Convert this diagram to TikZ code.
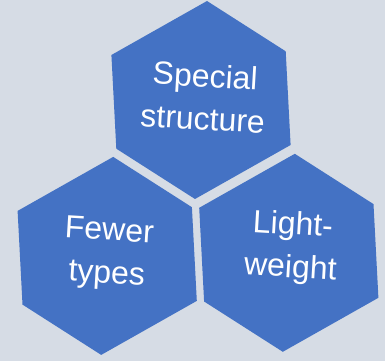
\documentclass[tikz,border=0pt]{standalone}
\usepackage{fontspec}
\setmainfont{Liberation Sans}
\definecolor{bgc}{HTML}{D6DCE5}
\definecolor{hexc}{HTML}{4472C4}
\tikzset{
  hexfill/.style={fill=hexc, draw=none},
  lbl/.style={text=white, align=center, font=\fontsize{32}{43}\selectfont, rotate=-3.4, inner sep=0pt}
}
\newcommand{\hexagonat}[2]{% cx cy (pixel coords, y down)
  \begin{scope}[shift={(#1,361-#2)}]
  \fill[hexfill] (6,99) -- (84.7,48.7) -- (89.6,-45) -- (-6,-99) -- (-84.7,-48.7) -- (-89.6,45) -- cycle;
  \end{scope}
}
\begin{document}
\begin{tikzpicture}[x=1pt,y=1pt]
\fill[bgc] (0,0) rectangle (385,361);
\useasboundingbox (0,0) rectangle (385,361);
\hexagonat{201}{100}
\hexagonat{107.2}{255.9}
\hexagonat{288.8}{252.8}
\node[lbl] (special) at (204,264) {Special\\structure};
\node[lbl] (fewer) at (108,107) {Fewer\\types};
\node[lbl] (light) at (291.6,113.4) {Light-\\weight};
\end{tikzpicture}
\end{document}
